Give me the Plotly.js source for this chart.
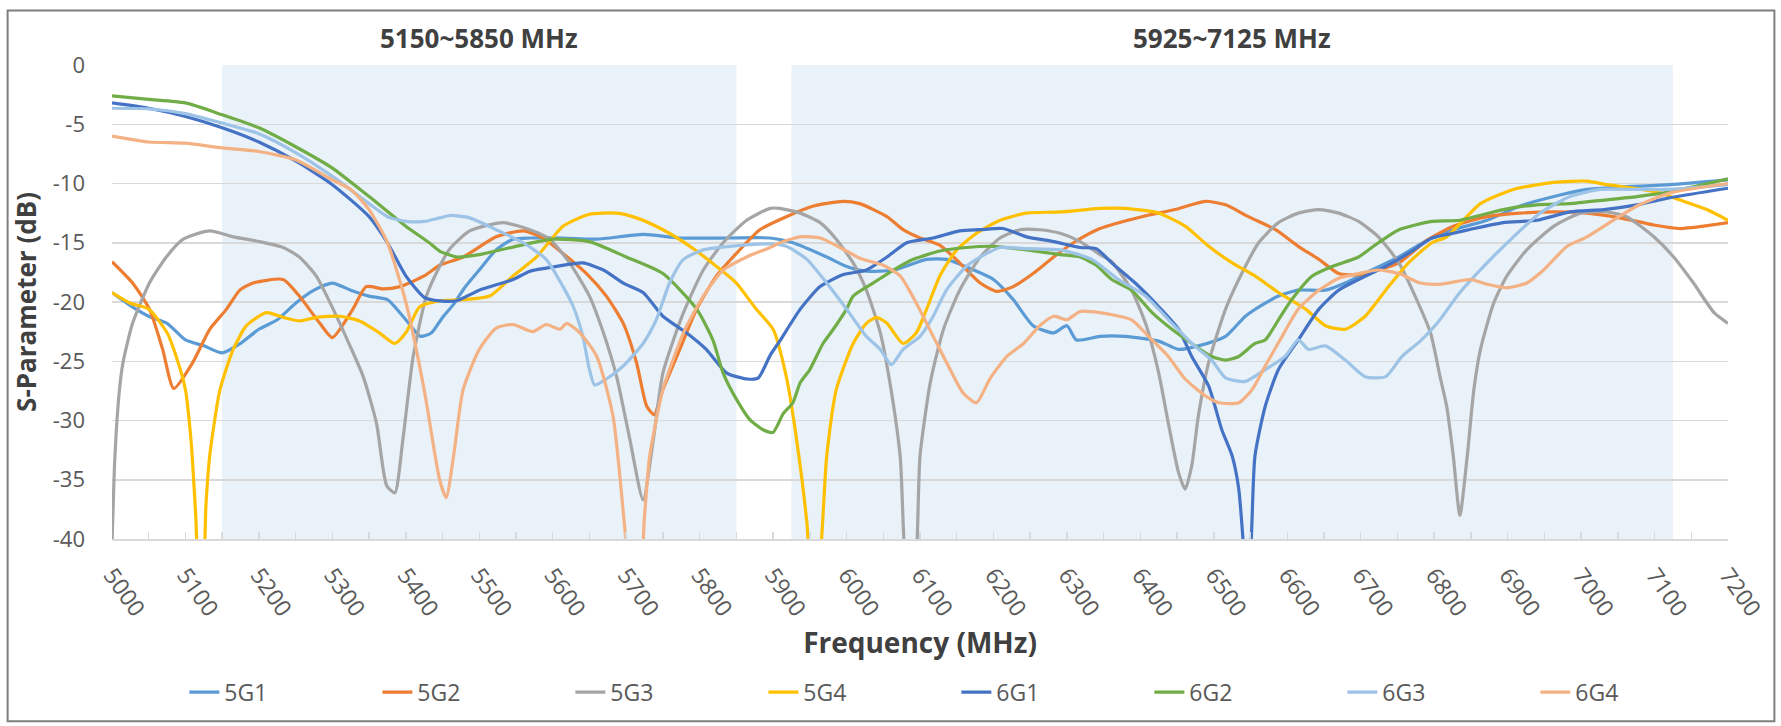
<!DOCTYPE html>
<html>
<head>
<meta charset="utf-8">
<script src="https://cdn.plot.ly/plotly-3.0.1.min.js"></script>
<style>
  html, body { margin: 0; padding: 0; background: #ffffff; }
  #chart { width: 1781px; height: 726px; }
</style>
</head>
<body>
<div id="chart"></div>
<script>
// ---- Data ----
const seriesNames = ["5G1", "5G2", "5G3", "5G4", "6G1", "6G2", "6G3", "6G4"];
const seriesColors = ["#5B9BD5", "#ED7D31", "#A5A5A5", "#FFC000", "#4472C4", "#70AD47", "#9DC3E6", "#F4B183"];

const f5G1 = [5000,5025,5050,5075,5100,5125,5150,5175,5200,5225,5250,5275,5300,5325,5350,5375,5400,5420,5435,5450,5465,5480,5500,5523,5546,5569,5614,5660,5723,5773,5841,5896,5927,5973,6000,6027,6064,6109,6136,6173,6200,6227,6254,6282,6300,6313,6345,6379,6425,6452,6479,6516,6543,6570,6588,6615,6652,6679,6715,6752,6790,6826,6872,6917,6963,7008,7053,7121,7200];
const v5G1 = [-19.2,-20.3,-21.2,-21.8,-23.2,-23.7,-24.3,-23.5,-22.3,-21.5,-20.1,-19,-18.4,-19,-19.5,-19.8,-21.5,-22.9,-22.6,-21.3,-20.2,-18.8,-17.3,-15.6,-14.7,-14.6,-14.6,-14.7,-14.3,-14.6,-14.6,-14.6,-15,-16.2,-17,-17.4,-17.3,-16.4,-16.4,-17.3,-18.1,-19.8,-22,-22.6,-22,-23.2,-22.9,-22.9,-23.3,-24,-23.7,-22.9,-21.2,-20.1,-19.5,-19,-19,-18.4,-17.3,-16.2,-14.8,-13.9,-13.1,-11.9,-11.1,-10.5,-10.3,-10.1,-9.7];

const f5G2 = [5000,5028,5051,5069,5084,5110,5133,5156,5174,5192,5233,5255,5283,5300,5328,5346,5370,5392,5425,5446,5478,5523,5560,5587,5614,5646,5673,5696,5714,5728,5738,5750,5773,5796,5823,5850,5882,5918,5955,5995,6018,6055,6077,6100,6127,6154,6182,6204,6227,6254,6282,6309,6345,6402,6447,6488,6516,6547,6584,6615,6643,6670,6697,6724,6752,6790,6826,6872,6917,6963,7008,7053,7099,7135,7167,7200];
const v5G2 = [-16.6,-18.4,-20.6,-24,-27.3,-25.1,-22.3,-20.6,-19,-18.4,-18.1,-19.5,-21.8,-23,-20.6,-18.7,-18.9,-18.7,-17.8,-16.9,-16.2,-14.5,-14,-14.6,-15.9,-17.6,-19.5,-21.8,-25.1,-28.8,-29.5,-27.4,-24,-20.6,-17.8,-15.9,-13.9,-12.8,-11.9,-11.5,-11.7,-12.8,-13.9,-14.6,-15.2,-16.7,-18.4,-19.1,-18.7,-17.6,-16.2,-15,-13.8,-12.8,-12.2,-11.5,-11.8,-12.8,-13.9,-15.3,-16.4,-17.6,-17.7,-17.3,-16.7,-14.8,-13.6,-12.8,-12.5,-12.4,-12.5,-12.9,-13.5,-13.8,-13.6,-13.3];

const f5G3 = [5000,5004,5010,5015,5028,5051,5074,5097,5133,5165,5201,5233,5255,5278,5301,5324,5342,5360,5374,5385,5396,5410,5428,5446,5460,5487,5532,5569,5596,5623,5650,5669,5687,5705,5723,5737,5750,5778,5805,5832,5864,5896,5909,5937,5964,5986,6009,6027,6046,6059,6073,6084,6091,6100,6114,6132,6154,6182,6209,6236,6263,6291,6318,6345,6361,6388,6407,6425,6438,6452,6461,6470,6479,6493,6516,6538,6561,6588,6615,6643,6670,6697,6724,6752,6774,6795,6808,6817,6826,6835,6845,6854,6863,6881,6899,6926,6963,6999,7035,7062,7099,7126,7153,7181,7200];
const v5G3 = [-40.5,-33,-27.5,-25.1,-21.8,-18.4,-16.2,-14.7,-14,-14.5,-14.9,-15.4,-16.2,-17.8,-20.6,-23.7,-26.3,-30.2,-35.5,-36.1,-31.6,-24.6,-19.5,-17,-15.5,-14,-13.3,-13.9,-14.7,-16.7,-19.5,-22.6,-26.3,-31.6,-36.7,-31.6,-26,-20.9,-17.3,-15,-13.1,-12.1,-12.1,-12.5,-13.3,-14.7,-16.7,-19,-22.6,-26.8,-33,-44,-44,-33,-26.8,-22.3,-19,-16.2,-14.6,-13.9,-13.9,-14.2,-14.9,-16,-16.6,-19,-21.8,-26,-30.2,-34.4,-35.8,-33.8,-29.6,-25.1,-20.6,-17.6,-15,-13.3,-12.5,-12.2,-12.5,-13.2,-14.5,-16.7,-19.5,-22.6,-26.3,-28.8,-33,-38,-33,-27.4,-24,-20.1,-17.8,-15.6,-13.6,-12.5,-12.4,-12.8,-14.5,-16.2,-18.4,-20.9,-21.8];

const f5G4 = [5000,5025,5050,5075,5090,5100,5108,5114,5119,5123,5128,5133,5147,5165,5183,5210,5233,5255,5278,5310,5337,5364,5385,5400,5419,5446,5478,5514,5546,5578,5614,5650,5687,5714,5750,5787,5823,5850,5877,5900,5918,5932,5946,5953,5959,5973,5986,6009,6027,6041,6055,6077,6095,6109,6127,6150,6177,6209,6245,6291,6345,6379,6425,6461,6493,6525,6556,6588,6625,6652,6679,6706,6734,6765,6797,6817,6863,6908,6963,7008,7035,7072,7108,7135,7171,7200];
const v5G4 = [-19.2,-20.1,-20.6,-22.6,-25.1,-27.4,-32,-38,-43,-43,-37,-33,-27.4,-24,-22,-20.9,-21.3,-21.6,-21.3,-21.2,-21.6,-22.6,-23.5,-22.6,-20.4,-19.9,-19.8,-19.5,-17.8,-16.2,-13.6,-12.6,-12.5,-12.9,-13.9,-15.3,-17,-18.4,-20.6,-22.3,-26.3,-31.6,-38.6,-44,-44,-33,-27.4,-23.5,-21.8,-21.3,-21.8,-23.5,-22.6,-20.6,-17.8,-15.6,-14.2,-13.1,-12.5,-12.4,-12.1,-12.1,-12.5,-13.6,-15.3,-16.7,-17.8,-19.2,-20.6,-22,-22.3,-21.2,-19,-16.7,-15,-14.5,-11.7,-10.5,-9.9,-9.8,-10.1,-10.4,-10.8,-11.4,-12.2,-13.1];

const f6G1 = [5000,5050,5100,5150,5200,5250,5300,5350,5375,5400,5425,5446,5469,5500,5546,5569,5605,5641,5669,5696,5723,5750,5782,5809,5837,5865,5880,5896,5909,5937,5964,5995,6027,6055,6082,6118,6154,6182,6213,6245,6282,6318,6340,6361,6393,6425,6452,6470,6493,6511,6525,6534,6541,6546,6551,6556,6570,6588,6615,6643,6670,6697,6734,6765,6797,6826,6854,6894,6940,6985,7031,7076,7121,7200];
const v6G1 = [-3.2,-3.65,-4.35,-5.3,-6.5,-8.1,-10.1,-12.8,-15,-17.8,-19.6,-19.9,-19.9,-19,-18.1,-17.4,-17,-16.7,-17.3,-18.4,-19.2,-21.2,-22.6,-24,-26,-26.5,-26.4,-24.5,-23.3,-20.6,-18.7,-17.7,-17.3,-16.2,-15,-14.6,-14,-13.9,-13.8,-14.5,-14.9,-15.4,-15.5,-16.7,-18.4,-20.4,-22.3,-24.6,-27.1,-30.8,-33,-35.8,-41,-44,-40,-33,-28.8,-25.7,-23.2,-20.6,-19,-18.1,-17,-15.9,-14.6,-14.2,-13.8,-13.3,-13.1,-12.4,-12.2,-11.8,-11.2,-10.4];

const f6G2 = [5000,5050,5100,5150,5200,5250,5300,5350,5400,5432,5446,5470,5500,5550,5600,5650,5700,5750,5796,5818,5832,5850,5868,5887,5900,5914,5927,5937,5950,5968,5982,6000,6009,6036,6064,6091,6127,6163,6200,6245,6291,6318,6340,6361,6388,6416,6443,6470,6497,6516,6534,6556,6570,6588,6606,6634,6661,6697,6724,6752,6797,6835,6894,6940,6985,7031,7076,7121,7200];
const v6G2 = [-2.6,-2.9,-3.2,-4.2,-5.3,-6.9,-8.7,-11.1,-13.6,-15,-15.7,-16.2,-16,-15.3,-14.7,-14.9,-16.2,-17.6,-20.6,-23.2,-26,-28.2,-29.9,-30.8,-31,-29.4,-28.5,-26.8,-25.7,-23.5,-22.3,-20.6,-19.5,-18.4,-17.3,-16.4,-15.7,-15.4,-15.3,-15.6,-16,-16.2,-16.9,-18.1,-19,-20.9,-22.3,-23.5,-24.6,-24.9,-24.6,-23.5,-23.2,-21.5,-19.8,-17.8,-17,-16.2,-15,-13.9,-13.2,-13.1,-12.2,-11.8,-11.7,-11.4,-11.1,-10.7,-9.6];

const f6G3 = [5000,5050,5100,5150,5200,5250,5300,5350,5375,5400,5425,5446,5460,5487,5523,5560,5591,5614,5628,5641,5650,5657,5673,5696,5723,5741,5759,5778,5805,5841,5896,5918,5946,5973,6000,6027,6046,6061,6077,6100,6118,6136,6163,6191,6209,6245,6291,6334,6370,6407,6443,6470,6497,6516,6543,6570,6597,6615,6629,6652,6679,6706,6734,6756,6781,6804,6835,6872,6908,6944,6985,7026,7076,7121,7200];
const v6G3 = [-3.65,-3.7,-4.1,-4.9,-5.8,-7.4,-9.4,-11.7,-12.8,-13.2,-13.2,-12.9,-12.7,-12.9,-13.9,-15,-16.4,-18.7,-20.4,-22.9,-25.7,-27,-26.5,-25.4,-23.5,-21.5,-18.4,-16.4,-15.6,-15.3,-15.1,-15.3,-16.4,-18.4,-20.6,-22.9,-24,-25.3,-24,-22.9,-21.2,-19,-17,-15.9,-15.4,-15.5,-15.6,-16.4,-18.1,-19.5,-21.8,-23.5,-24.9,-26.4,-26.7,-25.7,-24.6,-23.2,-24,-23.7,-24.9,-26.3,-26.3,-24.6,-23.3,-21.8,-19.2,-16.7,-14.5,-12.5,-11.1,-10.5,-10.5,-10.5,-10.1];

const f6G4 = [5000,5050,5100,5150,5200,5250,5300,5325,5350,5375,5400,5425,5446,5455,5465,5478,5500,5523,5546,5573,5591,5610,5619,5637,5660,5682,5698,5706,5717,5725,5732,5750,5778,5805,5832,5864,5896,5909,5937,5964,5991,6018,6050,6073,6095,6118,6141,6159,6177,6195,6218,6241,6263,6282,6300,6318,6345,6388,6411,6438,6461,6488,6507,6534,6552,6570,6593,6615,6643,6670,6697,6724,6752,6781,6808,6849,6872,6899,6926,6949,6981,7008,7044,7076,7121,7200];
const v6G4 = [-6,-6.5,-6.6,-7,-7.3,-8,-9.7,-10.5,-12.2,-15,-20,-27.4,-35,-36.5,-33,-27.4,-24,-22.2,-21.9,-22.5,-21.9,-22.3,-21.8,-22.6,-24.6,-29.6,-39,-44,-44,-38,-33,-27.4,-22.6,-19.5,-17.3,-16.2,-15.4,-15,-14.5,-14.6,-15.4,-16.3,-16.9,-17.8,-20.1,-22.9,-25.7,-27.7,-28.5,-26.5,-24.6,-23.5,-22,-21.2,-21.5,-20.8,-20.9,-21.5,-22.9,-24.6,-26.5,-27.9,-28.5,-28.5,-27.4,-25.4,-22.9,-20.6,-19,-18,-17.6,-17.3,-17.6,-18.4,-18.5,-18.1,-18.5,-18.8,-18.4,-17.3,-15.3,-14.5,-13.1,-11.9,-10.8,-10];

// Bands and labels
const bandStarts = [5150, 5925];
const bandEnds = [5850, 7125];
const bandLabels = ["5150~5850 MHz", "5925~7125 MHz"];

// Axis ticks
const xTickVals = [5000,5100,5200,5300,5400,5500,5600,5700,5800,5900,6000,6100,6200,6300,6400,6500,6600,6700,6800,6900,7000,7100,7200];
const xTickText = ["5000","5100","5200","5300","5400","5500","5600","5700","5800","5900","6000","6100","6200","6300","6400","6500","6600","6700","6800","6900","7000","7100","7200"];
const yTickVals = [0,-5,-10,-15,-20,-25,-30,-35,-40];
const yTickText = ["0","-5","-10","-15","-20","-25","-30","-35","-40"];

// ---- Build chart ----
const xs = [f5G1, f5G2, f5G3, f5G4, f6G1, f6G2, f6G3, f6G4];
const ys = [v5G1, v5G2, v5G3, v5G4, v6G1, v6G2, v6G3, v6G4];

const traces = seriesNames.map((name, i) => ({
  type: 'scatter',
  mode: 'lines',
  name: name,
  x: xs[i],
  y: ys[i],
  line: { color: seriesColors[i], width: 3.2, shape: 'spline', smoothing: 0.6 },
  hoverinfo: 'skip'
}));

const shapes = bandStarts.map((s, i) => ({
  type: 'rect', xref: 'x', yref: 'paper',
  x0: s, x1: bandEnds[i], y0: 0, y1: 1,
  fillcolor: '#E9F1F9', line: { width: 0 }, layer: 'below'
}));
// chart frame
shapes.push({
  type: 'rect', xref: 'paper', yref: 'paper',
  x0: -0.0646, x1: 1.0287, y0: -0.3844, y1: 1.1151,
  line: { color: '#7F7F7F', width: 2 }, fillcolor: 'rgba(0,0,0,0)', layer: 'above'
});

const annotations = bandLabels.map((t, i) => ({
  text: '<b>' + t + '</b>',
  xref: 'x', yref: 'paper',
  x: (bandStarts[i] + bandEnds[i]) / 2, y: 1,
  xanchor: 'center', yanchor: 'bottom', yshift: 7,
  showarrow: false,
  font: { size: 26, color: '#404040', family: 'Open Sans, sans-serif' }
}));

const layout = {
  width: 1781, height: 726,
  margin: { l: 112, r: 53, t: 65, b: 187, pad: 0 },
  paper_bgcolor: '#ffffff', plot_bgcolor: '#ffffff',
  font: { family: 'Open Sans, sans-serif', color: '#595959', size: 21 },
  showlegend: true,
  legend: {
    orientation: 'h', x: 0.5225, xanchor: 'center', y: -0.323, yanchor: 'middle',
    font: { size: 23, color: '#595959' }, traceorder: 'normal',
    entrywidth: 148, entrywidthmode: 'pixels', itemwidth: 30
  },
  xaxis: {
    range: [5000, 7200], autorange: false,
    tickmode: 'array', tickvals: xTickVals, ticktext: xTickText,
    tickangle: 55, ticks: 'inside', ticklen: 7, tickcolor: '#D9D9D9', tickwidth: 1.5,
    minor: { tick0: 5000, dtick: 50, ticks: 'inside', ticklen: 7, tickcolor: '#D9D9D9', tickwidth: 1.5, showgrid: false },
    showline: true, linecolor: '#D9D9D9', linewidth: 1.5,
    showgrid: false, zeroline: false,
    tickfont: { size: 23, color: '#595959' },
    ticklabelstandoff: 12,
    title: { text: '<b>Frequency (MHz)</b>', font: { size: 28, color: '#404040' }, standoff: 12 },
    automargin: false
  },
  yaxis: {
    range: [-40, 0], autorange: false,
    tickmode: 'array', tickvals: yTickVals, ticktext: yTickText,
    showgrid: true, gridcolor: '#D9D9D9', gridwidth: 1.5,
    zeroline: false, showline: false, ticks: '',
    tickfont: { size: 22, color: '#595959' },
    ticklabelstandoff: 26,
    title: { text: '<b>S-Parameter (dB)</b>', font: { size: 26, color: '#404040' }, standoff: 8 },
    automargin: false
  },
  shapes: shapes,
  annotations: annotations
};

Plotly.newPlot('chart', traces, layout, { displayModeBar: false, staticPlot: true });
</script>
</body>
</html>
